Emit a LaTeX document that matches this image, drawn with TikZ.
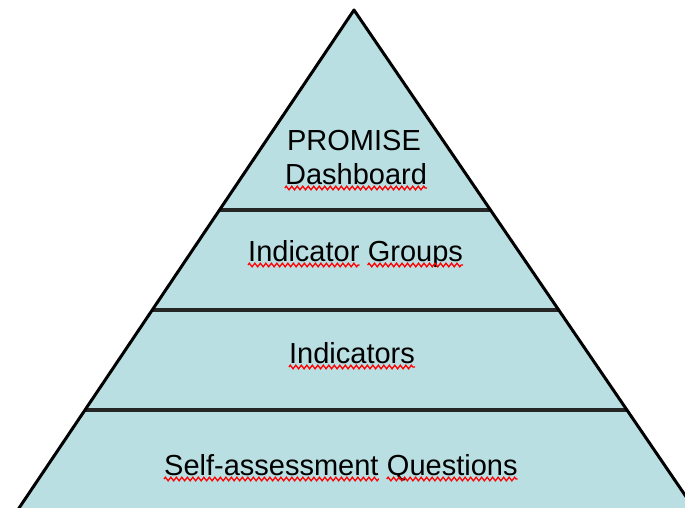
\documentclass[tikz,border=0pt]{standalone}
\usepackage{fontspec}
\setmainfont{Liberation Sans}
\usetikzlibrary{calc}
\usetikzlibrary{positioning}
\usetikzlibrary{decorations.pathmorphing}
\definecolor{layerfill}{RGB}{185,223,226}
\tikzset{auto, font=\fontsize{29}{34}\selectfont}
\tikzstyle{pyramid} = [fill=layerfill]
\tikzstyle{outline} = [draw, line width=3pt, line join=round]
\tikzstyle{divider} = [draw=black!85, line width=3.5pt]
\tikzstyle{word} = [inner sep=0pt, anchor=base]
\tikzstyle{spelling} = [draw=red, line width=1.3pt, decorate, decoration={zigzag, segment length=5.5pt, amplitude=1.8pt}]

\begin{document}
\begin{tikzpicture}[x=1pt, y=-1pt]
    \useasboundingbox (0,0) rectangle (685,508);
    \clip (0,0) rectangle (685,508);
    \coordinate (apex) at (354,10);
    \coordinate (base_l) at (11,520);
    \coordinate (base_r) at (702,520);

    \fill [pyramid] (apex) -- (base_r) -- (base_l) -- cycle;
    % layer dividers
    \foreach \t/\n in {0.392/top, 0.588/mid, 0.784/low} {
        \draw [divider] ($(apex)!\t!(base_l)$) coordinate (\n_l) -- ($(apex)!\t!(base_r)$) coordinate (\n_r);
    }
    \draw [outline] (base_l) -- (apex) -- (base_r);

    \node [word] (promise) at (354,150) {PROMISE};
    \node [word] (dashboard) at (356,184) {Dashboard};
    \node [word, anchor=base west] (indicator) at (248,261) {Indicator};
    \node [word, base right=8pt of indicator] (groups) {Groups};
    \node [word] (indicators) at (352,363) {Indicators};
    \node [word, anchor=base west] (selfassess) at (164,475) {Self-assessment};
    \node [word, base right=8pt of selfassess] (questions) {Questions};

    % spell check marks
    \foreach \w in {dashboard, indicator, groups, indicators, selfassess, questions}
        \draw [spelling] ($(\w.base west)+(0,4)$) -- ($(\w.base east)+(0,4)$);
\end{tikzpicture}
\end{document}
